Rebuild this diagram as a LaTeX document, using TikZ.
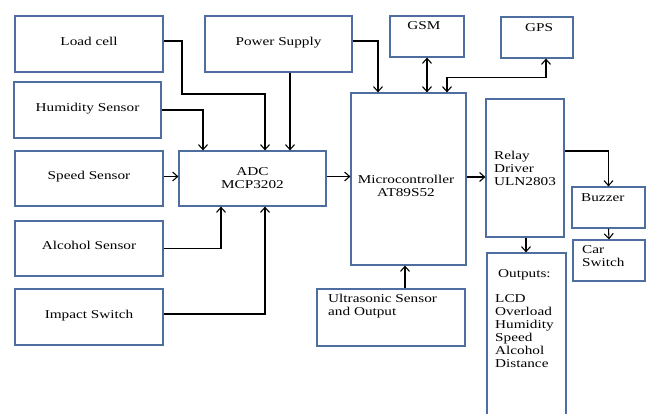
\documentclass[tikz,border=0pt]{standalone}
\usepackage{fontspec}
\setmainfont{Liberation Serif}[FakeStretch=1.27]
\usetikzlibrary{arrows.meta, positioning}
\definecolor{boxblue}{RGB}{79,110,160}

\begin{document}
\begin{tikzpicture}[
    x=1pt, y=-1pt,
    font=\fontsize{12}{13}\selectfont,
    block/.style={rectangle, draw=boxblue, line width=1.2pt, minimum width=148pt, minimum height=56pt, inner sep=0pt, text depth=6pt},
    small/.style={block, minimum width=73pt, minimum height=41pt},
    txt/.style={inner sep=0pt, align=left},
    link/.style={-{Straight Barb[length=5pt, width=9pt]}, line width=1.1pt},
    both/.style={{Straight Barb[length=5pt, width=9pt]}-{Straight Barb[length=5pt, width=9pt]}, line width=1.1pt}
]
\useasboundingbox (0,0) rectangle (648,414);

% Nodes
\node[block] (load) at (89,44) {Load cell};
\node[block, minimum width=147pt] (hum) at (87.5,110) {Humidity Sensor};
\node[block, minimum height=55pt] (speed) at (89,178.5) {Speed Sensor};
\node[block, minimum height=55pt] (alc) at (89,248.5) {Alcohol Sensor};
\node[block] (imp) at (89,317) {Impact Switch};
\node[block, minimum width=147pt] (power) at (278.5,44) {Power Supply};
\node[block, minimum width=147pt, minimum height=55pt, align=center, text depth=0pt] (adc) at (252.5,178.5) {ADC\\MCP3202};
\node[block, minimum width=115pt, minimum height=172pt] (mcu) at (408.5,179) {};
\node[block, minimum width=78pt, minimum height=138pt, align=left, text depth=0pt] (relay) at (525,168) {Relay\\Driver\\ULN2803};
\node[small, minimum width=74pt] (gsm) at (427,36.5) {};
\node[small, minimum width=72pt] (gps) at (537,37.5) {};
\node[small] (buzzer) at (608.5,207.5) {};
\node[small, minimum width=72pt] (car) at (609,260.5) {};
\node[block, minimum width=79pt, minimum height=167pt] (out) at (526.5,336.5) {};
\node[block, minimum height=57pt] (ultra) at (391,317.5) {};

% Texts
\node[txt, align=center] (mcu-t) at (406,186) {Microcontroller\\AT89S52};
\node[txt] (gsm-t) at (424,26) {GSM};
\node[txt] (gps-t) at (539,28) {GPS};
\node[txt, anchor=west] (buzzer-t) at (581,198) {Buzzer};
\node[txt, anchor=west] (car-t) at (582,256) {Car\\Switch};
\node[txt, anchor=west] (ultra-t) at (328,306) {Ultrasonic Sensor\\and Output};
\node[txt, anchor=north west] (out-t) at (495,269) {\hspace{3pt}Outputs:\\[12pt]LCD\\Overload\\Humidity\\Speed\\Alcohol\\Distance};

% Paths
\draw[link] ([yshift=3pt]load.east) -| (182,94) -| ([xshift=12.5pt]adc.north);
\draw[link] (hum.east) -| ([xshift=-49.5pt]adc.north);
\draw[link] ([xshift=11.5pt]power.south) -- ([xshift=37.5pt]adc.north);
\draw[link] ([yshift=2pt]speed.east) -- ([yshift=2pt]adc.west);
\draw[link] (alc.east) -| ([xshift=-31.5pt]adc.south);
\draw[link] ([yshift=3pt]imp.east) -| ([xshift=12.5pt]adc.south);

\draw[link] ([yshift=2pt]adc.east) -- ([yshift=2pt]adc.east -| mcu.west);
\draw[link] ([yshift=3pt]power.east) -| ([xshift=-30.5pt]mcu.north);
\draw[both] (gsm.south) -- (gsm.south |- mcu.north);
\draw[both] ([xshift=38.5pt]mcu.north) -- ++(0,-15) -| ([xshift=9pt]gps.south);
\draw[link] ([xshift=14pt]ultra.north) -- ([xshift=14pt]ultra.north |- mcu.south);

\draw[link] ([yshift=2pt]mcu.east) -- ([yshift=2pt]mcu.east -| relay.west);
\draw[link] ([yshift=17pt]relay.east) -| (buzzer.north);
\draw[link] (buzzer.south) -- (car.north);
\draw[link] ([xshift=1pt]relay.south) -- ([xshift=1pt]relay.south |- out.north);
\end{tikzpicture}
\end{document}
